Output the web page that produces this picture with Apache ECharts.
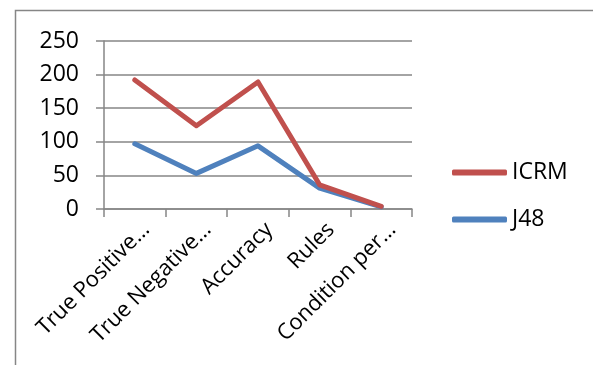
<!DOCTYPE html>
<html>
<head>
<meta charset="utf-8">
<style>
  html, body { margin: 0; padding: 0; background: #fff; }
  #chart { width: 593px; height: 365px; }
</style>
<script src="https://cdn.jsdelivr.net/npm/echarts@6/dist/echarts.min.js"></script>
</head>
<body>
<div id="chart"></div>
<script>
// Categories along the x axis (labels as shown, already shortened)
const categories = ['True Positive…', 'True Negative…', 'Accuracy', 'Rules', 'Condition per…'];

// Series values
const icrmValues = [192, 124, 189, 36, 4];
const j48Values = [97, 53, 94, 31, 3];

// Value axis ticks
const yTicks = [0, 50, 100, 150, 200, 250];

const seriesNames = ['ICRM', 'J48'];
const seriesColors = ['#C0504D', '#4F81BD'];

const FONT = '"Open Sans", "Liberation Sans", sans-serif';
const GRID_GREY = '#868686';

const chart = echarts.init(document.getElementById('chart'), null, { renderer: 'canvas' });

chart.setOption({
  animation: false,
  backgroundColor: '#ffffff',
  graphic: [{
    type: 'rect',
    shape: { x: 15.5, y: 10.5, width: 600, height: 400 },
    style: { fill: 'none', stroke: GRID_GREY, lineWidth: 1.5 },
    silent: true,
    z: -1
  }],
  grid: { left: 104, top: 41, width: 308, height: 168, containLabel: false },
  legend: {
    orient: 'vertical',
    left: 447,
    top: 156,
    itemWidth: 55,
    itemHeight: 6,
    itemGap: 24,
    icon: 'roundRect',
    data: seriesNames,
    textStyle: { fontFamily: FONT, fontSize: 23, color: '#000' }
  },
  xAxis: {
    type: 'category',
    data: categories,
    boundaryGap: true,
    axisLine: { lineStyle: { color: GRID_GREY, width: 1.5 } },
    axisTick: { show: true, length: 8, lineStyle: { color: GRID_GREY, width: 1.5 } },
    axisLabel: {
      interval: 0,
      rotate: 45,
      margin: 6,
      verticalAlign: 'top',
      lineHeight: 32,
      fontFamily: FONT,
      fontSize: 22,
      color: '#000'
    }
  },
  yAxis: {
    type: 'value',
    min: yTicks[0],
    max: yTicks[yTicks.length - 1],
    interval: yTicks[1] - yTicks[0],
    axisLine: { show: true, lineStyle: { color: GRID_GREY, width: 1.5 } },
    axisTick: { show: true, length: 8, lineStyle: { color: GRID_GREY, width: 1.5 } },
    splitLine: { lineStyle: { color: GRID_GREY, width: 1.5 } },
    axisLabel: { margin: 25, fontFamily: FONT, fontSize: 23, color: '#000' }
  },
  series: [
    {
      name: seriesNames[0],
      type: 'line',
      data: icrmValues,
      symbol: 'none',
      color: seriesColors[0],
      lineStyle: { width: 5, color: seriesColors[0], cap: 'round', join: 'round' },
      z: 3
    },
    {
      name: seriesNames[1],
      type: 'line',
      data: j48Values,
      symbol: 'none',
      color: seriesColors[1],
      lineStyle: { width: 5, color: seriesColors[1], cap: 'round', join: 'round' },
      z: 2
    }
  ]
});
</script>
</body>
</html>
